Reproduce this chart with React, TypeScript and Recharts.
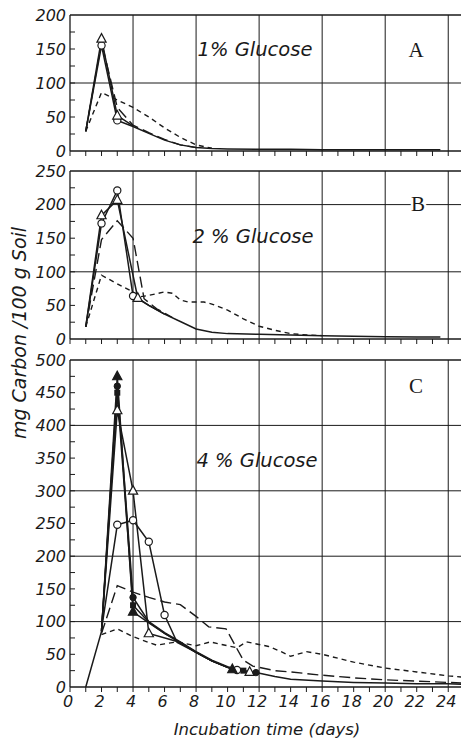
import React from 'react';
import { ComposedChart, Line, XAxis, YAxis, ReferenceLine, Label } from 'recharts';

const FONT = '"DejaVu Sans", Verdana, sans-serif';
const SERIF = '"Liberation Serif", "Times New Roman", serif';
const INK = '#1a1a1a';

type MarkerKind = 'none' | 'openCircle' | 'openTriangle' | 'filledTriangle' | 'filledCircle' | 'filledSquare';
type Dash = 'solid' | 'long' | 'short';
interface SeriesDef { name: string; days: number[]; values: number[]; marked: number[]; marker: MarkerKind; dash: Dash; }

// ---------- axes ----------
const DAY_TICKS = [0, 1, 2, 3, 4, 5, 6, 7, 8, 9, 10, 11, 12, 13, 14, 15, 16, 17, 18, 19, 20, 21, 22, 23, 24, 25];
const DAY_LABELS = [0, 2, 4, 6, 8, 10, 12, 14, 16, 18, 20, 22, 24];
const GRID_DAYS = [4, 8, 12, 16, 20, 24];
const Y_MINOR_STEP = 25;
const Y_LABEL_STEP = 50;

// ---------- Panel A : 1% Glucose ----------
const A_MAX = 200;
const A_GRID = [100];
const A_CIRCLE_DAYS = [1, 2, 3, 4, 5, 6, 7, 8, 9, 10, 12, 14, 16, 18, 20, 22, 23.5];
const A_CIRCLE_VALUES = [29, 155, 45, 36, 26, 16, 9, 5, 3.5, 3, 2.5, 2.5, 2, 2, 2, 2, 2];
const A_TRI_DAYS = [1, 2, 3, 4];
const A_TRI_VALUES = [29, 165, 52, 37];
const A_LONG_DAYS = [1, 2, 3, 4, 5, 6, 7, 8];
const A_LONG_VALUES = [29, 160, 64, 38, 27, 17, 9, 5];
const A_SHORT_DAYS = [1, 2, 3, 4, 5, 6, 7, 8, 9];
const A_SHORT_VALUES = [29, 86, 75, 64, 50, 34, 20, 9, 4];

// ---------- Panel B : 2% Glucose ----------
const B_MAX = 250;
const B_GRID = [100, 200];
const B_CIRCLE_DAYS = [1, 2, 3, 4, 4.5, 5, 6, 7, 8, 9, 10, 12, 14, 16, 18, 20, 22, 23.5];
const B_CIRCLE_VALUES = [18, 172, 221, 64, 57, 50, 37, 26, 15, 10, 8, 7, 6, 5, 4, 3.5, 3, 3];
const B_TRI_DAYS = [1, 2, 3, 4.3, 5, 6];
const B_TRI_VALUES = [18, 184, 207, 61, 50, 37];
const B_LONG_DAYS = [1, 2, 3, 4, 4.7, 5.5, 6.5];
const B_LONG_VALUES = [18, 148, 176, 150, 60, 45, 32];
const B_SHORT_DAYS = [1, 2, 3, 4, 4.5, 5, 6, 6.5, 7, 7.5, 8.5, 9, 10, 11, 12, 13, 14, 15, 16];
const B_SHORT_VALUES = [18, 95, 82, 70, 63, 65, 70, 68, 58, 55, 55, 52, 43, 30, 19, 13, 8, 6, 5];

// ---------- Panel C : 4% Glucose ----------
const C_MAX = 500;
const C_GRID = [100, 200, 300, 400];
const C_FTRI_DAYS = [1, 2, 3, 4, 5, 6, 7, 8, 9, 10, 10.3];
const C_FTRI_VALUES = [0, 85, 475, 115, 98, 82, 68, 53, 40, 30, 27];
const C_FCIRC_DAYS = [2, 3, 4, 5, 6, 7, 8, 9, 10, 11, 11.8, 13, 14, 16, 18, 20, 22, 24, 25];
const C_FCIRC_VALUES = [85, 460, 137, 100, 83, 69, 54, 41, 31, 25, 22, 16, 12, 9, 7, 6, 5, 5, 4];
const C_FSQ_DAYS = [2, 3, 4, 5, 6, 7, 8, 9, 10, 11];
const C_FSQ_VALUES = [85, 450, 125, 99, 82, 68, 53, 40, 30, 25];
const C_OTRI_DAYS = [2, 3, 4, 5, 6.3, 7, 8, 9, 10, 11.4];
const C_OTRI_VALUES = [85, 423, 300, 82, 73, 68, 53, 40, 30, 23];
const C_OCIRC_DAYS = [2, 3, 4, 5, 6, 6.8, 8, 9, 10, 10.6];
const C_OCIRC_VALUES = [88, 248, 255, 222, 110, 68, 53, 40, 30, 26];
const C_LONG_DAYS = [2, 3, 4, 5, 6, 7, 8, 8.8, 9.9, 10.4, 11, 11.6, 13, 14, 16, 18, 20, 22, 24, 25];
const C_LONG_VALUES = [82, 155, 145, 137, 130, 126, 108, 92, 89, 67, 41, 32, 25, 23, 18, 14, 11, 9, 7, 6];
const C_SHORT_DAYS = [2, 3, 4, 5, 5.5, 6, 6.8, 8, 8.9, 10, 10.6, 11.2, 12.6, 13.4, 14, 15, 16, 18, 20, 22, 24, 25];
const C_SHORT_VALUES = [80, 89, 77, 68, 64, 66, 69, 63, 69, 63, 60, 69, 62, 54, 47, 54, 50, 38, 29, 23, 17, 15];

const SERIES_A: SeriesDef[] = [
  { name: 'a-short', days: A_SHORT_DAYS, values: A_SHORT_VALUES, marked: [], marker: 'none', dash: 'short' },
  { name: 'a-long', days: A_LONG_DAYS, values: A_LONG_VALUES, marked: [], marker: 'none', dash: 'long' },
  { name: 'a-circle', days: A_CIRCLE_DAYS, values: A_CIRCLE_VALUES, marked: [2, 3], marker: 'openCircle', dash: 'solid' },
  { name: 'a-tri', days: A_TRI_DAYS, values: A_TRI_VALUES, marked: [2, 3], marker: 'openTriangle', dash: 'solid' },
];
const SERIES_B: SeriesDef[] = [
  { name: 'b-short', days: B_SHORT_DAYS, values: B_SHORT_VALUES, marked: [], marker: 'none', dash: 'short' },
  { name: 'b-long', days: B_LONG_DAYS, values: B_LONG_VALUES, marked: [], marker: 'none', dash: 'long' },
  { name: 'b-circle', days: B_CIRCLE_DAYS, values: B_CIRCLE_VALUES, marked: [2, 3, 4], marker: 'openCircle', dash: 'solid' },
  { name: 'b-tri', days: B_TRI_DAYS, values: B_TRI_VALUES, marked: [2, 3, 4.3], marker: 'openTriangle', dash: 'solid' },
];
const SERIES_C: SeriesDef[] = [
  { name: 'c-short', days: C_SHORT_DAYS, values: C_SHORT_VALUES, marked: [], marker: 'none', dash: 'short' },
  { name: 'c-long', days: C_LONG_DAYS, values: C_LONG_VALUES, marked: [], marker: 'none', dash: 'long' },
  { name: 'c-ocirc', days: C_OCIRC_DAYS, values: C_OCIRC_VALUES, marked: [3, 4, 5, 6, 10.6], marker: 'openCircle', dash: 'solid' },
  { name: 'c-otri', days: C_OTRI_DAYS, values: C_OTRI_VALUES, marked: [3, 4, 5, 11.4], marker: 'openTriangle', dash: 'solid' },
  { name: 'c-fsq', days: C_FSQ_DAYS, values: C_FSQ_VALUES, marked: [3, 4, 11], marker: 'filledSquare', dash: 'solid' },
  { name: 'c-fcirc', days: C_FCIRC_DAYS, values: C_FCIRC_VALUES, marked: [3, 4, 11.8], marker: 'filledCircle', dash: 'solid' },
  { name: 'c-ftri', days: C_FTRI_DAYS, values: C_FTRI_VALUES, marked: [3, 4, 10.3], marker: 'filledTriangle', dash: 'solid' },
];

const DASHES: Record<Dash, string | undefined> = { solid: undefined, long: '11 5', short: '5 4' };

function drawMarker(kind: MarkerKind, cx: number, cy: number, key: string) {
  switch (kind) {
    case 'openCircle':
      return <circle key={key} cx={cx} cy={cy} r={3.6} fill="#fff" stroke={INK} strokeWidth={1.2} />;
    case 'filledCircle':
      return <circle key={key} cx={cx} cy={cy} r={3.2} fill={INK} stroke={INK} />;
    case 'filledSquare':
      return <rect key={key} x={cx - 3} y={cy - 3} width={6} height={6} fill={INK} />;
    case 'openTriangle':
    case 'filledTriangle': {
      const pts = `${cx},${cy - 5.2} ${cx - 4.6},${cy + 3.4} ${cx + 4.6},${cy + 3.4}`;
      return <polygon key={key} points={pts} fill={kind === 'filledTriangle' ? INK : '#fff'} stroke={INK} strokeWidth={1.2} />;
    }
    default:
      return <g key={key} />;
  }
}

interface PanelProps { top: number; max: number; grid: number[]; series: SeriesDef[]; bottom: boolean; }

const PLOT_TOP = 15;
const PLOT_H_A = 136;

function Panel({ top, max, grid, series, bottom, plotH }: PanelProps & { plotH: number }) {
  const xAxisH = bottom ? 55 : 10;
  const height = PLOT_TOP + plotH + xAxisH;
  const yTicks: number[] = [];
  for (let v = 0; v <= max; v += Y_MINOR_STEP) yTicks.push(v);

  const YTick = (p: any) => {
    const { x, y, payload } = p;
    const v = payload.value as number;
    return (
      <g>
        {v > 0 && v < max && <line x1={x} x2={x + 5} y1={y} y2={y} stroke={INK} strokeWidth={1} />}
        {v % Y_LABEL_STEP === 0 && (
          <text x={x - 4} y={y} dy="0.36em" textAnchor="end" fontFamily={FONT} fontStyle="italic" fontSize={16} fill={INK}>
            {v}
          </text>
        )}
      </g>
    );
  };
  const XTick = (p: any) => {
    const { x, y, payload } = p;
    const v = payload.value as number;
    if (!bottom || DAY_LABELS.indexOf(v) < 0) return <g />;
    return (
      <text x={x - 2} y={y + 13} textAnchor="middle" fontFamily={FONT} fontStyle="italic" fontSize={16} fill={INK}>
        {v}
      </text>
    );
  };

  return (
    <div style={{ position: 'absolute', left: 0, top }}>
      <ComposedChart width={464} height={height} margin={{ top: PLOT_TOP, right: 0, bottom: 0, left: 0 }}>
        <XAxis
          type="number"
          dataKey="x"
          domain={[0, 25]}
          ticks={DAY_TICKS}
          interval={0}
          allowDataOverflow
          height={xAxisH}
          tickSize={5}
          tickLine={{ stroke: INK }}
          axisLine={{ stroke: INK, strokeWidth: 1.3 }}
          tick={XTick}
        >
          {bottom && (
            <Label
              value="Incubation time (days)"
              position="insideBottom"
              offset={7}
              fontFamily={FONT}
              fontStyle="italic"
              fontSize={16.5}
              fill={INK}
            />
          )}
        </XAxis>
        <YAxis
          type="number"
          dataKey="y"
          domain={[0, max]}
          ticks={yTicks}
          interval={0}
          width={70}
          tickSize={0}
          tickMargin={0}
          tickLine={false}
          axisLine={{ stroke: INK, strokeWidth: 1.3 }}
          tick={YTick}
        />
        {grid.map((g) => (
          <ReferenceLine key={`h${g}`} y={g} stroke={INK} strokeWidth={1} />
        ))}
        <ReferenceLine y={max} stroke={INK} strokeWidth={1.3} />
        {GRID_DAYS.map((d) => (
          <ReferenceLine key={`v${d}`} x={d} stroke={INK} strokeWidth={1} />
        ))}
        {series.map((s) => {
          const pts = s.days.map((d, i) => ({ x: d, y: s.values[i] }));
          return (
            <Line
              key={s.name}
              data={pts}
              dataKey="y"
              type="linear"
              stroke={INK}
              strokeWidth={s.dash === 'solid' ? 1.5 : 1.4}
              strokeDasharray={DASHES[s.dash]}
              isAnimationActive={false}
              dot={(p: any) => {
                const { cx, cy, payload, index } = p;
                const key = `${s.name}-d${index}`;
                if (s.marked.indexOf(payload.x) < 0) return <g key={key} />;
                return drawMarker(s.marker, cx, cy, key);
              }}
              activeDot={false}
            />
          );
        })}
      </ComposedChart>
    </div>
  );
}

export default function App() {
  return (
    <div style={{ position: 'absolute', left: 0, top: 0, width: 461, height: 742, overflow: 'hidden', background: '#fff' }}>
      <Panel top={0} max={A_MAX} grid={A_GRID} series={SERIES_A} bottom={false} plotH={PLOT_H_A} />
      <Panel top={156} max={B_MAX} grid={B_GRID} series={SERIES_B} bottom={false} plotH={168} />
      <Panel top={345} max={C_MAX} grid={C_GRID} series={SERIES_C} bottom={true} plotH={327} />
      <svg width={461} height={742} style={{ position: 'absolute', left: 0, top: 0, pointerEvents: 'none' }}>
        <g fontFamily={FONT} fontStyle="italic" fontSize={19.5} fill={INK} textAnchor="middle">
          <text x={255} y={56}>1% Glucose</text>
          <text x={253} y={243}>2 % Glucose</text>
          <text x={257} y={467}>4 % Glucose</text>
        </g>
        <g fontFamily={SERIF} fontSize={21} fill={INK} textAnchor="middle">
          <text x={416} y={57}>A</text>
          <text x={418} y={211} stroke="#fff" strokeWidth={5} paintOrder="stroke">B</text>
          <text x={416} y={393}>C</text>
        </g>
        <text
          x={26}
          y={333}
          transform="rotate(-90 26 333)"
          textAnchor="middle"
          fontFamily={FONT}
          fontStyle="italic"
          fontSize={19}
          fill={INK}
        >
          mg Carbon /100 g Soil
        </text>
      </svg>
    </div>
  );
}
